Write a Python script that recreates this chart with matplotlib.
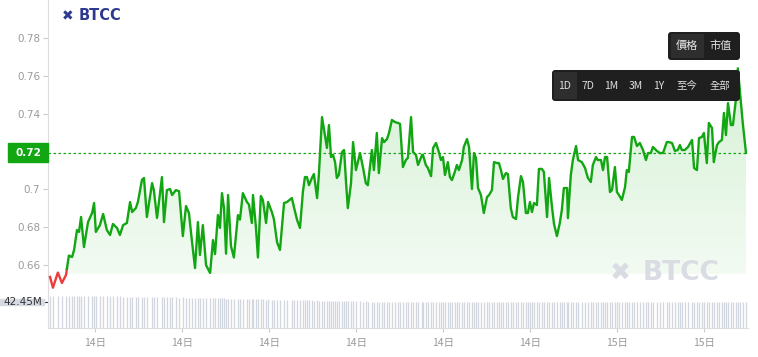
import numpy as np
import matplotlib.pyplot as plt
from matplotlib.patches import Rectangle, FancyBboxPatch
from matplotlib.transforms import blended_transform_factory

plt.rcParams['font.family'] = ['DejaVu Sans', 'Noto Sans CJK TC']
CJK = ['Noto Sans CJK TC', 'DejaVu Sans']

# hours counted from 14日 00:00
hours = [
    4.45, 4.55, 4.72, 4.86, 5.00, 5.10, 5.21, 5.28, 5.38, 5.45,
    5.52, 5.62, 5.76, 5.90, 5.97, 6.03, 6.17, 6.28, 6.41, 6.52,
    6.62, 6.76, 6.86, 6.97, 7.10, 7.21, 7.28, 7.41, 7.48, 7.62,
    7.69, 7.79, 7.97, 8.03, 8.14, 8.31, 8.38, 8.48, 8.59, 8.66,
    8.79, 8.90, 9.03, 9.14, 9.24, 9.34, 9.45, 9.55, 9.62, 9.72,
    9.83, 9.97, 10.07, 10.14, 10.24, 10.31, 10.38,
    10.45, 10.52, 10.59, 10.69, 10.79, 10.93, 11.00, 11.10, 11.24, 11.31,
    11.41, 11.45, 11.55, 11.62, 11.72, 11.79, 11.90, 11.97, 12.10, 12.17,
    12.28, 12.38, 12.52, 12.62, 12.79, 12.86, 12.97, 13.07, 13.17, 13.24,
    13.31, 13.38, 13.48, 13.55, 13.66, 13.72, 13.83, 13.90, 14.00, 14.07,
    14.14, 14.21, 14.28, 14.34, 14.41, 14.52, 14.59, 14.66, 14.72, 14.83,
    14.90, 15.00, 15.14, 15.24, 15.34, 15.41, 15.55, 15.62, 15.72, 15.79,
    15.90, 15.97, 16.07, 16.14, 16.24, 16.34, 16.45, 16.52,
    16.62, 16.72, 16.79, 16.90, 16.97, 17.07, 17.14, 17.28, 17.31, 17.41,
    17.48, 17.59, 17.66, 17.76, 17.86, 17.93, 18.00, 18.07, 18.17, 18.24,
    18.31, 18.41, 18.48, 18.55, 18.66, 18.72, 18.83, 18.90, 19.00, 19.07,
    19.14, 19.21, 19.31, 19.41, 19.52, 19.59, 19.69, 19.76, 19.86, 19.93,
    20.00, 20.07, 20.17, 20.24, 20.34, 20.41, 20.52, 20.59, 20.69, 20.76,
    20.86, 20.93, 21.00, 21.07, 21.14, 21.24, 21.31, 21.41, 21.48, 21.59,
    21.66, 21.76, 21.83, 21.93, 22.03, 22.10, 22.17, 22.28, 22.31, 22.41,
    22.48, 22.59, 22.66, 22.79, 22.90, 23.00, 23.10, 23.17, 23.28, 23.34,
    23.45, 23.52, 23.59, 23.66, 23.76, 23.83, 23.93, 24.00, 24.07, 24.17,
    24.28, 24.34, 24.41, 24.52, 24.59, 24.69, 24.79, 24.90, 25.00, 25.07,
    25.17, 25.24, 25.38, 25.48, 25.59, 25.72, 25.79, 25.90, 26.00, 26.10,
    26.17, 26.24, 26.34, 26.45, 26.59, 26.66, 26.76, 26.83, 26.93, 27.00,
    27.10, 27.17, 27.28, 27.34, 27.45, 27.52, 27.62, 27.69, 27.76, 27.83,
    27.93, 28.00, 28.10, 28.17, 28.24, 28.34, 28.45,
]

prices = [
    0.6537, 0.6480, 0.6560, 0.6505, 0.6547, 0.6650, 0.6642, 0.6680, 0.6785, 0.6775,
    0.6854, 0.6695, 0.6827, 0.6875, 0.6928, 0.6775, 0.6811, 0.6870, 0.6785, 0.6759,
    0.6817, 0.6796, 0.6759, 0.6811, 0.6822, 0.6933, 0.6880, 0.6901, 0.6933, 0.7050,
    0.7060, 0.6854, 0.7033, 0.6996, 0.6849, 0.7065, 0.6827, 0.6996, 0.7002, 0.6970,
    0.6996, 0.6990, 0.6753, 0.6912, 0.6875, 0.6732, 0.6584, 0.6827, 0.6653, 0.6811,
    0.6600, 0.6558, 0.6732, 0.6658, 0.6864, 0.6796, 0.6980,
    0.6900, 0.6660, 0.6970, 0.6700, 0.6640, 0.6864, 0.6840, 0.6980, 0.6933, 0.6920,
    0.6822, 0.6970, 0.6800, 0.6640, 0.6965, 0.6944, 0.6822, 0.6933, 0.6880, 0.6843,
    0.6720, 0.6680, 0.6928, 0.6933, 0.6954, 0.6907, 0.6838, 0.6796, 0.6986, 0.7065,
    0.7065, 0.7022, 0.7060, 0.7081, 0.6954, 0.7076, 0.7382, 0.7314, 0.7219, 0.7340,
    0.7171, 0.7182, 0.7144, 0.7060, 0.7076, 0.7197, 0.7208, 0.7033, 0.6901, 0.7033,
    0.7250, 0.7102, 0.7192, 0.7118, 0.7033, 0.7022, 0.7208, 0.7102, 0.7298, 0.7086,
    0.7271, 0.7250, 0.7266, 0.7298, 0.7367, 0.7356, 0.7351, 0.7346,
    0.7118, 0.7155, 0.7166, 0.7382, 0.7197, 0.7182, 0.7129, 0.7182, 0.7182, 0.7129,
    0.7113, 0.7070, 0.7219, 0.7245, 0.7197, 0.7155, 0.7171, 0.7076, 0.7144, 0.7065,
    0.7049, 0.7092, 0.7129, 0.7102, 0.7155, 0.7224, 0.7266, 0.7224, 0.7002, 0.7192,
    0.7166, 0.7007, 0.6970, 0.6875, 0.6959, 0.6970, 0.6996, 0.7144, 0.7139, 0.7139,
    0.7102, 0.7055, 0.7086, 0.7081, 0.6901, 0.6854, 0.6843, 0.6959, 0.7070, 0.7039,
    0.6875, 0.6875, 0.6933, 0.6880, 0.6928, 0.6917, 0.7108, 0.7108, 0.7092, 0.6854,
    0.7060, 0.6907, 0.6817, 0.6753, 0.6822, 0.6891, 0.7007, 0.7007, 0.6848, 0.7076,
    0.7155, 0.7229, 0.7155, 0.7144, 0.7113, 0.7060, 0.7039, 0.7129, 0.7171, 0.7155,
    0.7155, 0.7102, 0.7171, 0.7171, 0.6986, 0.6996, 0.7118, 0.6986, 0.6970, 0.6944,
    0.7012, 0.7102, 0.7092, 0.7277, 0.7277, 0.7229, 0.7245, 0.7208, 0.7155, 0.7192,
    0.7192, 0.7224, 0.7203, 0.7192, 0.7192, 0.7250, 0.7250, 0.7245, 0.7203, 0.7208,
    0.7234, 0.7208, 0.7208, 0.7224, 0.7261, 0.7113, 0.7102, 0.7271, 0.7277, 0.7298,
    0.7139, 0.7351, 0.7324, 0.7144, 0.7234, 0.7250, 0.7261, 0.7404, 0.7287, 0.7456,
    0.7340, 0.7340, 0.7472, 0.7640, 0.7520, 0.7350, 0.7193,
]

# volume in millions, one bar per price point
volumes = [
    52.3, 52.1, 52.4, 52.2, 52.3, 52.0, 52.2, 52.1, 52.3, 52.0,
    51.9, 52.1, 51.8, 52.0, 51.7, 51.9, 51.8, 51.6, 51.7, 51.5,
    51.6, 51.4, 51.5, 51.2, 51.3, 51.1, 51.2, 50.9, 51.0, 50.8,
    50.9, 50.6, 50.7, 50.5, 50.6, 50.3, 50.4, 50.2, 50.0, 50.1,
    49.9, 49.7, 49.8, 49.6, 49.4, 49.5, 49.3, 49.1, 49.2, 49.0,
    48.9, 48.7, 48.8, 48.6, 48.4, 48.5, 48.3, 48.2, 48.0, 48.1,
    47.9, 47.8, 47.6, 47.7, 47.5, 47.3, 47.4, 47.2, 47.1, 46.9,
    47.0, 46.8, 46.7, 46.5, 46.6, 46.4, 46.2, 46.3, 46.1, 46.0,
    45.8, 45.9, 45.7, 45.5, 45.6, 45.4, 45.2, 45.3, 45.1, 45.0,
    44.8, 44.9, 44.7, 44.5, 44.6, 44.4, 44.3, 44.1, 44.2, 44.0,
    43.9, 43.8, 43.9, 43.7, 43.6, 43.7, 43.5, 43.4, 43.5, 43.3,
    43.2, 43.3, 43.1, 43.0, 43.1, 42.9, 42.8, 42.9, 42.7, 42.8,
    42.6, 42.7, 42.5, 42.6, 42.4, 42.5, 42.6, 42.4, 42.5, 42.3,
    42.4, 42.6, 42.5, 42.7, 42.6, 42.8, 42.7, 42.9, 42.8, 43.0,
    42.9, 43.1, 43.0, 43.2, 43.1, 43.0, 42.9, 43.1, 43.0, 42.9,
    42.8, 42.9, 42.7, 42.8, 42.6, 42.7, 42.5, 42.6, 42.4, 42.5,
    42.6, 42.4, 42.5, 42.3, 42.4, 42.2, 42.3, 42.4, 42.2, 42.3,
    42.4, 42.5, 42.3, 42.4, 42.6, 42.5, 42.7, 42.6, 42.5, 42.4,
    42.3, 42.4, 42.2, 42.3, 42.1, 42.2, 42.3, 42.1, 42.2, 42.0,
    42.1, 42.3, 42.2, 42.4, 42.3, 42.5, 42.4, 42.3, 42.2, 42.4,
    42.5, 42.3, 42.4, 42.2, 42.3, 42.1, 42.2, 42.0, 42.1, 42.3,
    42.2, 42.4, 42.3, 42.5, 42.4, 42.6, 42.5, 42.4, 42.3, 42.5,
    42.4, 42.6, 42.5, 42.3, 42.4, 42.2, 42.3, 42.4, 42.5, 42.3,
    42.4, 42.2, 42.3, 42.5, 42.4, 42.6, 42.5, 42.3, 42.4, 42.5,
    42.3, 42.4, 42.6, 42.5, 42.4, 42.3, 42.5, 42.4, 42.3, 42.5,
    42.4, 42.6, 42.5, 42.3, 42.4, 42.5, 42.3, 42.4, 42.6, 42.5,
    42.4, 42.45,
]

current_price = prices[-1]
base_price = 0.658          # below this the line is red
y_ticks = [0.66, 0.68, 0.70, 0.72, 0.74, 0.76, 0.78]
x_ticks = [6, 9, 12, 15, 18, 21, 24, 27]
x_labels = ['14日', '14日', '14日', '14日', '14日', '14日', '15日', '15日']
range_buttons = ['1D', '7D', '1M', '3M', '1Y', '至今', '全部']
mode_buttons = ['價格', '市值']

GREEN = '#13a613'
RED = '#ee3b3b'
W, H = 758, 357


def fx(x):
    return x / W


def fy(y):
    return 1 - y / H


fig = plt.figure(figsize=(W / 100, H / 100), dpi=100)
fig.patch.set_facecolor('white')

ax = fig.add_axes([fx(48), fy(290), fx(700), 290 / H])
axv = fig.add_axes([fx(48), fy(328), fx(700), 38 / H])

# price line, red part then green part
k = next(i for i, p in enumerate(prices) if p >= base_price)
t = (base_price - prices[k - 1]) / (prices[k] - prices[k - 1])
hx = hours[k - 1] + t * (hours[k] - hours[k - 1])
ax.plot(hours[:k] + [hx], prices[:k] + [base_price], color=RED, lw=1.7, zorder=4,
        solid_joinstyle='round')
ax.plot([hx] + hours[k:], [base_price] + prices[k:], color=GREEN, lw=1.7, zorder=4,
        solid_joinstyle='round')

# gradient fill below the line
floor = 0.655
poly = ax.fill_between(hours, prices, floor, color='none', lw=0)
grad = np.zeros((256, 1, 4))
grad[:, 0, 0] = 0.18
grad[:, 0, 1] = 0.72
grad[:, 0, 2] = 0.18
grad[:, 0, 3] = np.linspace(0.06, 0.2, 256)
im = ax.imshow(grad, extent=[hours[0], hours[-1], floor, max(prices)], origin='lower',
               aspect='auto', zorder=1, interpolation='bilinear')
im.set_clip_path(poly.get_paths()[0], transform=ax.transData)

ax.axhline(current_price, color=GREEN, lw=0.9, ls=(0, (2, 2)), zorder=3)

ax.set_xlim(4.38, 28.52)
ax.set_ylim(0.6468, 0.8001)
ax.set_yticks(y_ticks)
# the 0.72 tick label sits under the current price box
ax.set_yticklabels(['' if abs(v - current_price) < 0.005 else f'{v:g}' for v in y_ticks])
ax.tick_params(axis='y', labelsize=7.5, labelcolor='#9a9a9a', color='#cccccc',
               length=3.5, width=0.8, pad=2)
ax.set_xticks([])
for s in ['top', 'right', 'bottom']:
    ax.spines[s].set_visible(False)
ax.spines['left'].set_color('#dddddd')
ax.set_facecolor('none')

# current price box
tr = blended_transform_factory(fig.transFigure, ax.transData)
fig.add_artist(Rectangle((fx(8), current_price - 0.0051), fx(40), 0.0102,
                         transform=tr, color=GREEN, zorder=6, clip_on=False))
fig.text(fx(28), current_price, f'{current_price:.2f}', transform=tr, ha='center',
         va='center', color='white', fontsize=7.5, fontweight='bold', zorder=7)

# volume bars
axv.vlines(hours, 0, volumes, color='#d2d6de', lw=0.9)
axv.set_xlim(4.38, 28.52)
axv.set_ylim(0, 62.0)
axv.set_yticks([volumes[-1]])
axv.set_yticklabels([''])
axv.tick_params(axis='y', color='#333333', length=3.5, width=0.8)
axv.set_xticks(x_ticks)
axv.set_xticklabels(x_labels, family=CJK)
axv.tick_params(axis='x', labelsize=7.5, labelcolor='#9a9a9a', color='#cccccc',
                length=3, width=0.8, pad=4)
for s in ['top', 'right']:
    axv.spines[s].set_visible(False)
axv.spines['left'].set_color('#dddddd')
axv.spines['bottom'].set_color('#dddddd')
axv.set_facecolor('none')

trv = blended_transform_factory(fig.transFigure, axv.transData)
fig.add_artist(Rectangle((0, volumes[-1] - 4.4), fx(44), 8.8, transform=trv,
                         color='#d6dae3', zorder=6, clip_on=False))
fig.text(fx(23), volumes[-1], f'{volumes[-1]:.2f}M', transform=trv, ha='center',
         va='center', color='#333333', fontsize=7.5, zorder=7)

# logo and watermark
fig.text(fx(62), fy(16), '✖', color='#2f3a8f', fontsize=10, fontweight='bold',
         va='center', ha='left')
fig.text(fx(79), fy(16), 'BTCC', color='#2f3a8f', fontsize=10.5, fontweight='bold',
         va='center', ha='left')
fig.text(fx(610), fy(273), '✖', color='#d9dce3', fontsize=18, fontweight='bold',
         va='center', ha='left', zorder=2)
fig.text(fx(643), fy(273), 'BTCC', color='#d9dce3', fontsize=19, fontweight='bold',
         va='center', ha='left', zorder=2)


# dark button groups
def button_box(x0, y0, x1, y1, color):
    fig.add_artist(FancyBboxPatch((fx(x0), fy(y1)), fx(x1 - x0), (y1 - y0) / H,
                                  boxstyle='round,pad=0,rounding_size=0.004',
                                  transform=fig.transFigure, fc=color, ec='none',
                                  zorder=8, mutation_aspect=W / H))


button_box(668, 32, 740, 60, '#1f1f1f')
fig.add_artist(Rectangle((fx(671), fy(58)), fx(33), 24 / H, transform=fig.transFigure,
                         fc='#2e2e2e', ec='none', zorder=9))
for lab, x in zip(mode_buttons, [687, 720]):
    fig.text(fx(x), fy(46), lab, family=CJK, color='#e8e8e8', fontsize=8,
             ha='center', va='center', zorder=10)

button_box(552, 70, 740, 101, '#1f1f1f')
fig.add_artist(Rectangle((fx(554), fy(99)), fx(23), 27 / H, transform=fig.transFigure,
                         fc='#2e2e2e', ec='none', zorder=9))
for lab, x in zip(range_buttons, [565, 588, 611, 636, 659, 687, 720]):
    fig.text(fx(x), fy(86), lab, family=CJK, color='#e0e0e0', fontsize=7.5,
             ha='center', va='center', zorder=10)

fig.savefig('out.png', dpi=100)
